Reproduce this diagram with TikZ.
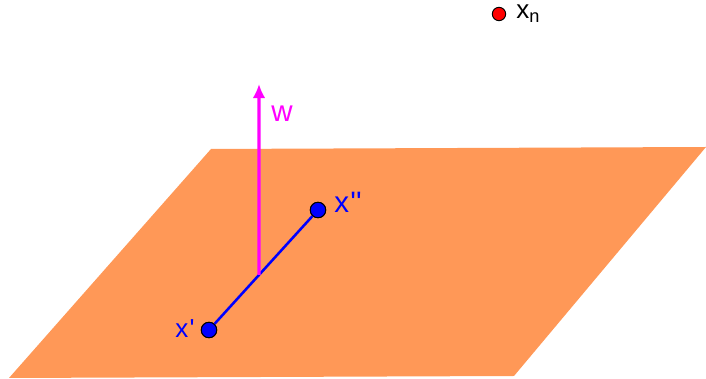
\documentclass[tikz,border=0pt]{standalone}
\usepackage{fontspec}
\setmainfont[Ligatures=TeXOff]{Liberation Sans}
\usetikzlibrary{arrows.meta,calc}
\definecolor{planeorange}{RGB}{255,152,87}
\definecolor{ptblue}{RGB}{0,0,255}
\definecolor{normalmag}{RGB}{255,0,255}
\tikzset{
plane/.style={fill=planeorange,draw=none},
dot/.style={circle,fill=ptblue,draw=black,line width=.7pt,inner sep=0pt,minimum size=11pt},
reddot/.style={circle,fill=red,draw=black,line width=.7pt,inner sep=0pt,minimum size=9.5pt},
lbl/.style={font=\fontsize{21}{24}\selectfont,inner sep=0pt},
smalllbl/.style={font=\fontsize{18.5}{21}\selectfont,inner sep=0pt},
segment/.style={ptblue,line width=1.8pt},
normal/.style={-{Latex[length=10pt,width=9pt]},normalmag,line width=2.2pt}
}

\begin{document}
\begin{tikzpicture}[x=0.025cm,y=-0.025cm]
\useasboundingbox (0,0) rectangle (706,379);
\fill[plane] (211,149)--(706,147)--(514,376)--(9,378)--cycle;
\node[dot] (xp) at (209,330) {};
\node[dot] (xpp) at (318,210) {};
\node[reddot] (xn) at (499,14) {};
\coordinate (foot) at ($(xp)!0.459!(xpp)$);
\coordinate (tip) at (259,84);
\draw[segment](xp)--(xpp);
\draw[normal](foot)--(tip);
\node[dot] at (xp) {};
\node[dot] at (xpp) {};
\node[smalllbl,ptblue,anchor=base west] (xplbl) at (175,338) {x\kern1pt'};
\node[lbl,ptblue,anchor=base west] (xpplbl) at (334,213) {x\kern1pt''};
\node[lbl,normalmag,anchor=base west] (wlbl) at (271,122) {w};
\node[smalllbl,anchor=base west] (xnlbl) at (516,19) {x$_\mathrm{n}$};
\end{tikzpicture}
\end{document}
